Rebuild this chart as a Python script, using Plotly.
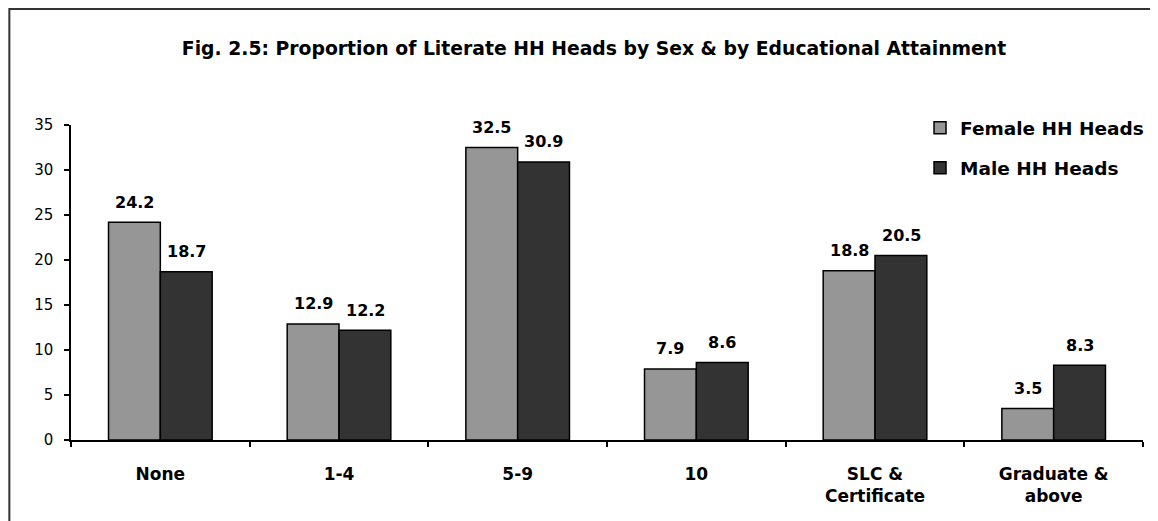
import plotly.graph_objects as go

categories = ["None", "1-4", "5-9", "10", "SLC &<br>Certificate", "Graduate &<br>above"]
female = [24.2, 12.9, 32.5, 7.9, 18.8, 3.5]
male = [18.7, 12.2, 30.9, 8.6, 20.5, 8.3]
series_names = ["Female HH Heads", "Male HH Heads"]
y_ticks = [0, 5, 10, 15, 20, 25, 30, 35]
title_text = "Fig. 2.5: Proportion of Literate HH Heads by Sex & by Educational Attainment"

FONT = "DejaVu Sans"
F_COL = "#969696"
M_COL = "#333333"

# page body has an 8px margin; the figure is sized to end at the window edge
W, H = 1150, 513
L, R, T, B = 63, 9, 117, 81
PW, PH = W - L - R, H - T - B

fig = go.Figure()
fig.add_trace(go.Bar(x=categories, y=female, name=series_names[0], legendgroup="f",
                     marker=dict(color=F_COL, line=dict(color="black", width=1.5))))
fig.add_trace(go.Bar(x=categories, y=male, name=series_names[1], legendgroup="m",
                     marker=dict(color=M_COL, line=dict(color="black", width=1.5))))

annotations = []
for vals, shift in ((female, -26), (male, 26)):
    for i, v in enumerate(vals):
        annotations.append(dict(x=i, y=v, xref="x", yref="y", text="<b>%.1f</b>" % v,
                                showarrow=False, xshift=shift, yshift=20, yanchor="middle",
                                font=dict(family=FONT, size=16, color="black")))

fig.update_layout(
    width=W, height=H,
    margin=dict(l=L, r=R, t=T, b=B),
    paper_bgcolor="white", plot_bgcolor="white",
    barmode="group", bargap=0.42, bargroupgap=0,
    title=dict(text="<b>" + title_text + "</b>", x=586 / W, xanchor="center",
               y=1 - 40 / H, yanchor="middle",
               font=dict(family=FONT, size=18.8, color="black")),
    legend=dict(x=0.792, y=1.05, xanchor="left", yanchor="top",
                font=dict(family=FONT, size=18.5, color="black", weight="bold"),
                bgcolor="rgba(0,0,0,0)", tracegroupgap=13, traceorder="grouped"),
    xaxis=dict(type="category", range=[-0.5, 5.5], automargin=False,
               showline=True, linecolor="black", linewidth=1.5, ticks="outside",
               tickson="boundaries", ticklen=5, tickwidth=1.5, tickcolor="black",
               showgrid=False, ticklabelstandoff=18, tickangle=0,
               tickfont=dict(family=FONT, size=17, color="black", weight="bold")),
    yaxis=dict(range=[0, 35], tickvals=y_ticks, showline=True, linecolor="black",
               automargin=False,
               linewidth=1.5, ticks="outside", ticklen=5, tickwidth=1.5, tickcolor="black",
               showgrid=False, zeroline=False, ticklabelstandoff=8,
               tickfont=dict(family=FONT, size=15, color="black")),
    annotations=annotations,
    shapes=[dict(type="rect", xref="paper", yref="paper",
                 x0=(1 - L) / PW, x1=(W + 20 - L) / PW,
                 y0=(PH + T - (H + 20)) / PH, y1=(PH + T - 1) / PH,
                 line=dict(color="#333333", width=2), fillcolor="rgba(0,0,0,0)")],
)

fig.write_html("out.html")
